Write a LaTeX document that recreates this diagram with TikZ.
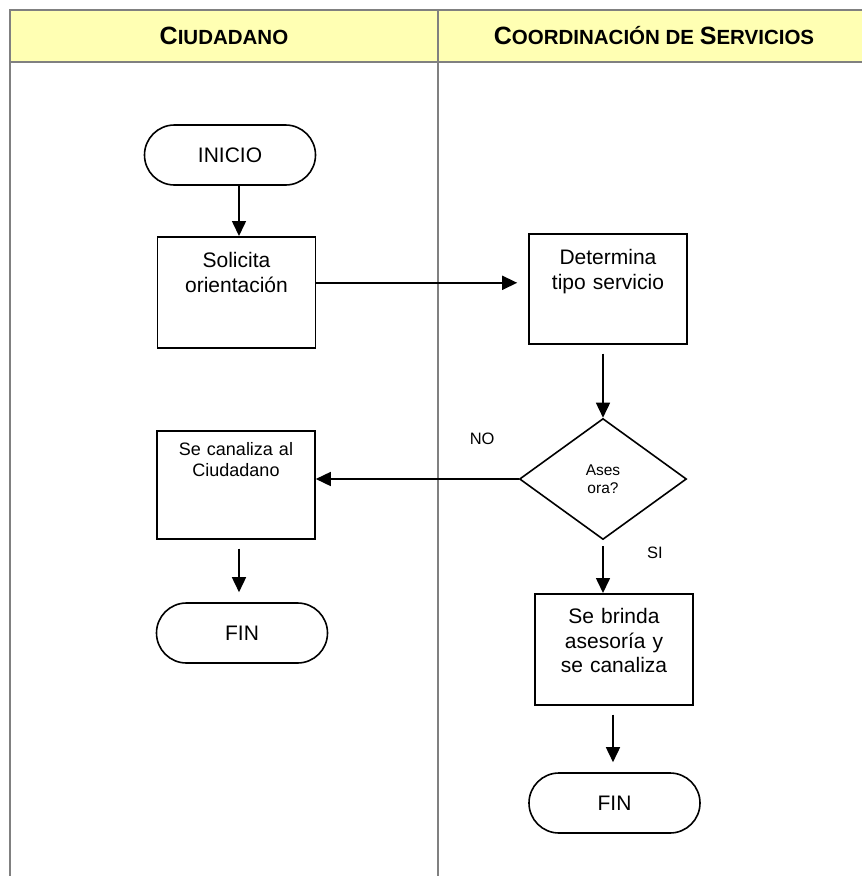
\documentclass[tikz,border=0pt]{standalone}
\usepackage{fontspec}
\setmainfont{Liberation Sans}
\usepackage{tikz}
\usetikzlibrary{arrows.meta,shapes.geometric,shapes.misc}
\definecolor{headfill}{HTML}{FFFFB3}
\definecolor{lanegray}{HTML}{808080}

\begin{document}
\begin{tikzpicture}[x=1pt, y=-1pt, ->, >={Triangle[length=15pt,width=14pt]}, line width=1.6pt, font=\fontsize{21}{24.5}\selectfont]

    \tikzstyle{term}=[draw, rounded rectangle, minimum width=171pt, minimum height=60pt, inner sep=0pt]
    \tikzstyle{proc}=[draw, text width=150pt, align=center, inner xsep=4pt, inner ysep=0pt, text height=31pt, anchor=north]
    \tikzstyle{dec}=[draw, diamond, minimum width=167pt, minimum height=121pt, inner sep=0pt, align=center, font=\fontsize{15.5}{18}\selectfont]
    \tikzstyle{lbl}=[font=\fontsize{16.5}{19}\selectfont]
    \tikzstyle{lane}=[-, draw=lanegray, line width=2.5pt]
    \tikzstyle{head}=[anchor=base, font=\bfseries]

    \useasboundingbox (0,0) rectangle (862,876);

    % swimlanes
    \fill[-, headfill] (10,10) rectangle (870,62);
    \draw[lane] (870,10) -- (10,10) -- (10,876);
    \draw[lane] (10,62) -- (870,62);
    \draw[lane] (438,10) -- (438,876);

    \node[head] (ciudadano) at (224,44) {\fontsize{25}{30}\selectfont C\fontsize{20.5}{24}\selectfont IUDADANO};
    \node[head] (coordinacion) at (654,44) {\fontsize{25}{30}\selectfont C\fontsize{20.5}{24}\selectfont OORDINACIÓN DE \fontsize{25}{30}\selectfont S\fontsize{20.5}{24}\selectfont ERVICIOS};

    \node[term]                   (inicio)    at (230,155)   {INICIO};
    \node[proc, text depth=80pt]  (solicita)  at (236.5,236) {Solicita\\orientación};
    \node[proc, text depth=79pt]  (determina) at (608,233)   {Determina\\tipo servicio};
    \node[dec]                    (asesora)   at (603,479)   {Ases\\ora?};
    \node[proc, text height=25pt, text depth=83pt, font=\fontsize{18}{21}\selectfont]
                                  (canaliza)  at (236,430)   {Se canaliza al\\Ciudadano};
    \node[proc, text height=30pt, text depth=81pt]
                                  (brinda)    at (614,593)   {Se brinda\\asesoría y\\se canaliza};
    \node[term]                   (fin1)      at (242,633)   {FIN};
    \node[term]                   (fin2)      at (614.5,803) {FIN};

    \path ([xshift=9pt]inicio.south) edge ([xshift=2.5pt]solicita.north)
          ([yshift=9.5pt]solicita.east) edge [shorten >=11pt] ([yshift=6pt]determina.west)
          ([xshift=-5pt]determina.south) edge [shorten <=9pt] (asesora.north)
          (asesora.west) edge node[lbl, pos=0.18, yshift=40pt] (no) {NO} (asesora.west -| canaliza.east)
          ([xshift=3pt]canaliza.south) edge [shorten <=9pt, shorten >=10pt] ([xshift=-3pt]fin1.north)
          (asesora.south) edge [shorten <=6pt] node[lbl, pos=0.24, xshift=52pt] (si) {SI} ([xshift=-11pt]brinda.north)
          ([xshift=-1pt]brinda.south) edge [shorten <=9pt, shorten >=10pt] ([xshift=-1.5pt]fin2.north)
    ;
\end{tikzpicture}
\end{document}
